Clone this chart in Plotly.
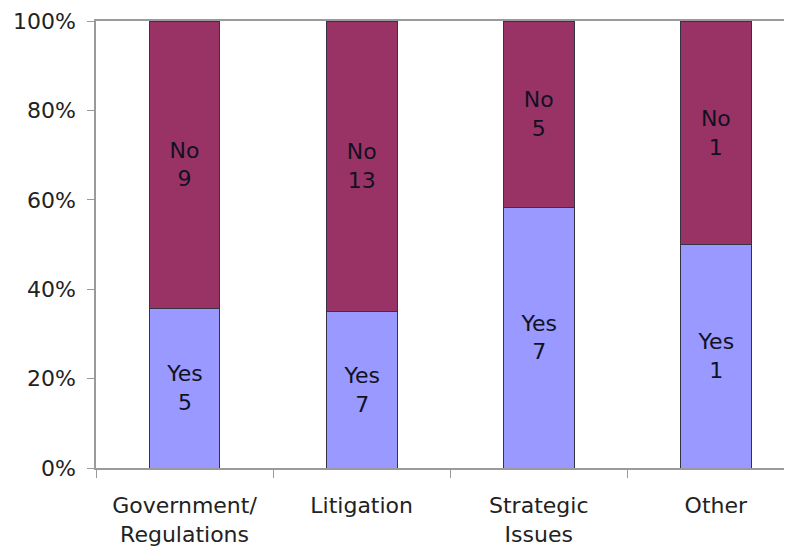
import plotly.graph_objects as go

categories = ["Government/<br>Regulations", "Litigation", "Strategic<br>Issues", "Other"]
yes_counts = [5, 7, 7, 1]
no_counts = [9, 13, 5, 1]
tick_vals = [0, 20, 40, 60, 80, 100]
tick_text = ["0%", "20%", "40%", "60%", "80%", "100%"]

totals = [y + n for y, n in zip(yes_counts, no_counts)]
yes_pct = [100 * y / t for y, t in zip(yes_counts, totals)]
no_pct = [100 * n / t for n, t in zip(no_counts, totals)]

FONT = "DejaVu Sans"

fig = go.Figure()
fig.add_trace(go.Bar(
    x=categories, y=yes_pct, name="Yes",
    marker=dict(color="#9999FF", line=dict(color="#333344", width=1)),
    text=[f"Yes<br>{v}" for v in yes_counts],
    textposition="inside", insidetextanchor="middle",
    textfont=dict(family=FONT, size=22, color="#111122"),
    width=0.4,
))
fig.add_trace(go.Bar(
    x=categories, y=no_pct, name="No",
    marker=dict(color="#993366", line=dict(color="#333344", width=1)),
    text=[f"No<br>{v}" for v in no_counts],
    textposition="inside", insidetextanchor="middle",
    textfont=dict(family=FONT, size=22, color="#111122"),
    width=0.4,
))

fig.update_layout(
    barmode="stack",
    width=784, height=543,
    margin=dict(l=88, r=0, t=13, b=83),
    paper_bgcolor="white", plot_bgcolor="white",
    showlegend=False,
    font=dict(family=FONT, size=22, color="#222222"),
    uniformtext=dict(mode="show", minsize=10),
)
fig.update_xaxes(
    range=[-0.5, 3.43], automargin=False,
    showline=True, linecolor="#9a9a9a", linewidth=1.5, mirror=True,
    ticks="outside", ticklen=8, tickcolor="#9a9a9a", tickson="boundaries",
    ticklabelstandoff=17,
    showgrid=False,
    tickfont=dict(family=FONT, size=22, color="#222222"),
)
fig.update_yaxes(
    range=[0, 100], automargin=False,
    tickvals=tick_vals, ticktext=tick_text,
    showline=True, linecolor="#9a9a9a", linewidth=1.5,
    ticks="outside", ticklen=7, tickcolor="#9a9a9a",
    ticklabelstandoff=7,
    showgrid=False, zeroline=False,
    tickfont=dict(family=FONT, size=22, color="#222222"),
)

fig.write_html("out.html")
